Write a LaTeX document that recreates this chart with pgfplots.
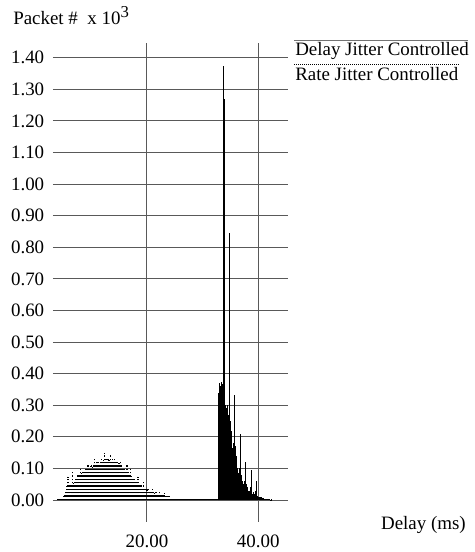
\documentclass[border=0pt]{standalone}
\usepackage{fontspec}
\setmainfont{Liberation Serif}
\usepackage{pgfplots}
\usepackage{pgfplotstable}
\pgfplotsset{compat=1.18}

% delay histogram, rate jitter controlled (dotted)
\pgfplotstableread{
x y
4.0 0.002
4.2 0.003
4.4 0.004
4.6 0.006
4.8 0.008
5.0 0.012
5.2 0.018
5.4 0.030
5.6 0.045
5.8 0.074
6.0 0.040
6.2 0.048
6.4 0.052
6.6 0.088
6.8 0.055
7.0 0.062
7.2 0.066
7.4 0.070
7.6 0.078
7.8 0.082
8.0 0.104
8.2 0.086
8.4 0.090
8.6 0.094
8.8 0.092
9.0 0.098
9.2 0.100
9.4 0.116
9.6 0.102
9.8 0.108
10.0 0.112
10.2 0.106
10.4 0.114
10.6 0.130
10.8 0.110
11.0 0.120
11.2 0.124
11.4 0.116
11.6 0.126
11.8 0.136
12.0 0.122
12.2 0.128
12.4 0.148
12.6 0.130
12.8 0.124
13.0 0.136
13.2 0.128
13.4 0.144
13.6 0.126
13.8 0.132
14.0 0.124
14.2 0.134
14.4 0.120
14.6 0.126
14.8 0.114
15.0 0.118
15.2 0.126
15.4 0.112
15.6 0.104
15.8 0.100
16.0 0.102
16.2 0.094
16.4 0.110
16.6 0.088
16.8 0.082
17.0 0.098
17.2 0.076
17.4 0.072
17.6 0.070
17.8 0.066
18.0 0.062
18.2 0.060
18.4 0.074
18.6 0.052
18.8 0.048
19.0 0.046
19.2 0.042
19.4 0.058
19.6 0.038
19.8 0.035
20.0 0.033
20.2 0.036
20.4 0.030
20.6 0.028
20.8 0.026
21.0 0.040
21.2 0.024
21.4 0.022
21.6 0.025
21.8 0.020
22.0 0.019
22.2 0.030
22.4 0.018
22.6 0.016
22.8 0.017
23.0 0.015
23.2 0.022
23.4 0.014
23.6 0.013
23.8 0.014
24.0 0.012
24.2 0.010
24.4 0.006
24.6 0.004
24.8 0.003
25.0 0.003
25.2 0.002
25.4 0.004
25.6 0.003
25.8 0.002
26.0 0.005
26.2 0.003
26.4 0.002
26.6 0.004
26.8 0.003
27.0 0.002
27.2 0.008
27.4 0.003
27.6 0.002
27.8 0.004
28.0 0.003
28.2 0.002
28.4 0.003
28.6 0.005
28.8 0.002
29.0 0.003
29.2 0.002
29.4 0.004
29.6 0.010
29.8 0.003
30.0 0.002
30.2 0.003
30.4 0.002
30.6 0.004
30.8 0.002
31.0 0.003
31.2 0.002
31.4 0.003
31.6 0.002
31.8 0.004
32.0 0.002
32.2 0.003
32.4 0.002
32.6 0.003
32.8 0.004
33.0 0.005
}\ratejitter

% delay histogram, delay jitter controlled (solid)
\pgfplotstableread{
x y
32.9 0.340
33.0 0.350
33.1 0.370
33.2 0.360
33.3 0.372
33.4 0.360
33.5 0.350
33.6 0.368
33.7 1.375
33.8 0.330
33.9 0.300
34.0 1.270
34.1 0.300
34.2 0.290
34.3 0.280
34.4 0.300
34.5 0.280
34.6 0.270
34.7 0.260
34.8 0.845
34.9 0.270
35.0 0.250
35.1 0.220
35.2 0.160
35.3 0.155
35.4 0.165
35.5 0.170
35.6 0.180
35.7 0.200
35.8 0.332
35.9 0.170
36.0 0.140
36.1 0.120
36.2 0.100
36.3 0.090
36.4 0.085
36.5 0.080
36.6 0.100
36.7 0.090
36.8 0.210
36.9 0.080
37.0 0.070
37.1 0.060
37.2 0.050
37.3 0.045
37.4 0.050
37.5 0.040
37.6 0.060
37.7 0.120
37.8 0.050
37.9 0.035
38.0 0.030
38.1 0.040
38.2 0.030
38.3 0.025
38.4 0.030
38.5 0.025
38.6 0.040
38.7 0.095
38.8 0.030
38.9 0.020
39.0 0.020
39.1 0.025
39.2 0.015
39.3 0.020
39.4 0.015
39.5 0.030
39.6 0.060
39.7 0.015
39.8 0.010
39.9 0.012
40.0 0.010
40.1 0.008
40.2 0.010
40.3 0.006
40.4 0.008
40.5 0.005
40.6 0.010
40.7 0.004
40.8 0.006
40.9 0.004
41.0 0.005
41.1 0.003
41.2 0.004
41.3 0.002
41.4 0.003
41.5 0.004
41.6 0.002
41.7 0.003
41.8 0.002
41.9 0.002
42.0 0.003
42.1 0.002
42.2 0.001
42.3 0.002
42.4 0.001
}\delayjitter

\newcommand{\lblfont}{\fontsize{14.2}{17}\selectfont}

\begin{document}
\begin{tikzpicture}
\useasboundingbox (0,0) rectangle (355.5pt,414pt);
\begin{axis}[
  at={(39.75pt,22.5pt)}, anchor=south west,
  scale only axis,
  width=175.875pt, height=359.25pt,
  xmin=3.11, xmax=45.25,
  ymin=-0.0696, ymax=1.4465,
  xtick={20,40},
  ytick={0,0.1,0.2,0.3,0.4,0.5,0.6,0.7,0.8,0.9,1.0,1.1,1.2,1.3,1.4},
  grid=major,
  grid style={black!65, line width=0.75pt},
  axis line style={draw=none},
  major tick length=0pt,
  tick label style={font=\lblfont},
  yticklabel style={inner sep=0pt, xshift=-6.4pt},
  xticklabel style={inner sep=0pt, yshift=-9.75pt},
  /pgf/number format/.cd, fixed, fixed zerofill, precision=2,
    assume math mode=true,
]
\addplot[ycomb, black, line width=1.05pt, dash pattern=on 0.9pt off 1.6pt, mark=none]
  table[x=x, y=y] {\ratejitter};
\addplot[ycomb, black, line width=0.75pt, mark=none]
  table[x=x, y=y] {\delayjitter};
\end{axis}

% axis titles
\node[anchor=base west, inner sep=0pt, font=\lblfont] at (9.75pt,395.25pt)
  {Packet \#\ \ x 10\raisebox{5.5pt}{\fontsize{12.5}{13}\selectfont 3}};
\node[anchor=base east, inner sep=0pt, font=\lblfont] at (349.5pt,16.5pt) {Delay (ms)};

% legend
\node[anchor=base west, inner sep=0pt, font=\lblfont] (l1) at (221.25pt,372.4pt) {Delay Jitter Controlled};
\draw[black!55, line width=0.75pt] (220.5pt,383.25pt) -- (351pt,383.25pt);
\node[anchor=base west, inner sep=0pt, font=\lblfont] (l2) at (221.25pt,353.6pt) {Rate Jitter Controlled};
\draw[black, line width=0.75pt, dash pattern=on 0.6pt off 0.9pt] (220.5pt,365.25pt) -- (l2.east |- 0,365.25pt);
\end{tikzpicture}
\end{document}
